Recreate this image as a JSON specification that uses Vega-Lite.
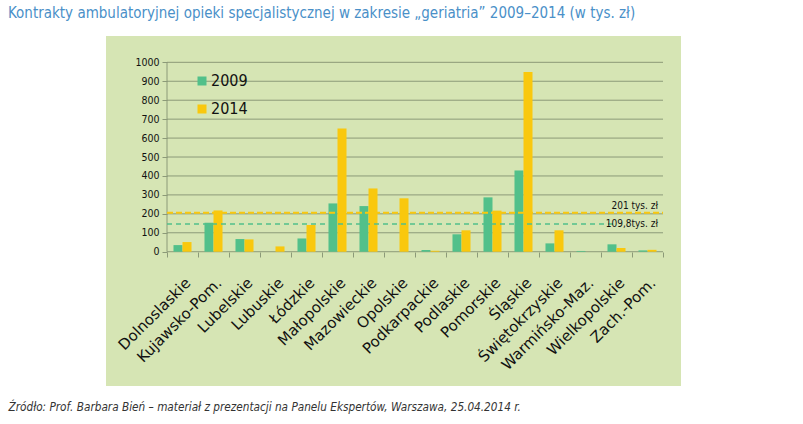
{
  "$schema": "https://vega.github.io/schema/vega-lite/v6.json",
  "width": 575,
  "height": 350,
  "autosize": {"type": "none"},
  "padding": {"left": 106, "top": 36, "right": 122, "bottom": 38},
  "background": "white",
  "title": {
    "text": "Kontrakty ambulatoryjnej opieki specjalistycznej w zakresie „geriatria” 2009–2014 (w tys.  zł)",
    "anchor": "start",
    "frame": "group",
    "dx": -98,
    "offset": 15,
    "font": "'DejaVu Sans Condensed', sans-serif",
    "fontSize": 15,
    "fontWeight": "normal",
    "color": "#4a90c8"
  },
  "datasets": {
    "contracts": [
      {"region": "Dolnoslaskie", "year": "2009", "value": 35},
      {"region": "Dolnoslaskie", "year": "2014", "value": 51},
      {"region": "Kujawsko-Pom.", "year": "2009", "value": 153},
      {"region": "Kujawsko-Pom.", "year": "2014", "value": 218},
      {"region": "Lubelskie", "year": "2009", "value": 67},
      {"region": "Lubelskie", "year": "2014", "value": 65},
      {"region": "Lubuskie", "year": "2009", "value": 0},
      {"region": "Lubuskie", "year": "2014", "value": 28},
      {"region": "Łódzkie", "year": "2009", "value": 70},
      {"region": "Łódzkie", "year": "2014", "value": 141},
      {"region": "Małopolskie", "year": "2009", "value": 255},
      {"region": "Małopolskie", "year": "2014", "value": 651},
      {"region": "Mazowieckie", "year": "2009", "value": 241},
      {"region": "Mazowieckie", "year": "2014", "value": 334},
      {"region": "Opolskie", "year": "2009", "value": 0},
      {"region": "Opolskie", "year": "2014", "value": 282},
      {"region": "Podkarpackie", "year": "2009", "value": 9},
      {"region": "Podkarpackie", "year": "2014", "value": 5},
      {"region": "Podlaskie", "year": "2009", "value": 92},
      {"region": "Podlaskie", "year": "2014", "value": 113},
      {"region": "Pomorskie", "year": "2009", "value": 287},
      {"region": "Pomorskie", "year": "2014", "value": 217},
      {"region": "Śląskie", "year": "2009", "value": 429},
      {"region": "Śląskie", "year": "2014", "value": 949},
      {"region": "Świętokrzyskie", "year": "2009", "value": 44},
      {"region": "Świętokrzyskie", "year": "2014", "value": 113},
      {"region": "Warmińsko-Maz.", "year": "2009", "value": 4},
      {"region": "Warmińsko-Maz.", "year": "2014", "value": 0},
      {"region": "Wielkopolskie", "year": "2009", "value": 39},
      {"region": "Wielkopolskie", "year": "2014", "value": 19},
      {"region": "Zach.-Pom.", "year": "2009", "value": 7},
      {"region": "Zach.-Pom.", "year": "2014", "value": 10}
    ],
    "grid": [
      {"v": 0}, {"v": 100}, {"v": 200}, {"v": 300}, {"v": 400}, {"v": 500},
      {"v": 600}, {"v": 700}, {"v": 800}, {"v": 900}, {"v": 1000}
    ]
  },
  "layer": [
    {
      "data": {"name": "grid"},
      "mark": {"type": "rule", "color": "#8c9a78", "strokeWidth": 1},
      "encoding": {
        "y": {
          "field": "v",
          "type": "quantitative",
          "axis": {
            "title": null,
            "offset": -61,
            "values": [0, 100, 200, 300, 400, 500, 600, 700, 800, 900, 1000],
            "tickCount": 20,
            "format": "d",
            "labelOverlap": false,
            "domain": false,
            "grid": false,
            "ticks": true,
            "tickSize": 5,
            "tickColor": "#8c9a78",
            "labelPadding": 3,
            "labelFont": "'DejaVu Sans Condensed', sans-serif",
            "labelFontSize": 10.5,
            "labelColor": "#111111"
          }
        },
        "x": {"datum": "Dolnoslaskie", "type": "nominal", "bandPosition": 0},
        "x2": {"datum": "Zach.-Pom.", "bandPosition": 1}
      }
    },
    {
      "data": {"name": "grid"},
      "transform": [{"filter": "datum.v == 0"}],
      "mark": {"type": "rule", "color": "#8c9a78", "strokeWidth": 1},
      "encoding": {
        "x": {"datum": "Dolnoslaskie", "type": "nominal", "bandPosition": 0},
        "y": {"field": "v", "type": "quantitative"},
        "y2": {"datum": 1000}
      }
    },
    {
      "data": {"name": "contracts"},
      "mark": {"type": "bar"},
      "encoding": {
        "x": {
          "field": "region",
          "type": "nominal",
          "sort": null,
          "scale": {
            "domain": ["Dolnoslaskie", "Kujawsko-Pom.", "Lubelskie", "Lubuskie", "Łódzkie", "Małopolskie", "Mazowieckie", "Opolskie", "Podkarpackie", "Podlaskie", "Pomorskie", "Śląskie", "Świętokrzyskie", "Warmińsko-Maz.", "Wielkopolskie", "Zach.-Pom."],
            "paddingInner": 0,
            "paddingOuter": 0,
            "range": [61, 557]
          },
          "axis": {
            "title": "Źródło: Prof. Barbara Bień – materiał z prezentacji na Panelu Ekspertów, Warszawa, 25.04.2014 r.",
            "titleX": -98,
            "titleY": 158,
            "titleAlign": "left",
            "titleAnchor": "start",
            "titleBaseline": "alphabetic",
            "titleAngle": 0,
            "titleFont": "'DejaVu Sans Condensed', sans-serif",
            "titleFontStyle": "italic",
            "titleFontWeight": "normal",
            "titleFontSize": 11.7,
            "titleColor": "#333333",
            "offset": -134,
            "domain": false,
            "grid": false,
            "ticks": true,
            "tickBand": "extent",
            "tickSize": 5,
            "tickColor": "#8c9a78",
            "labelAngle": -45,
            "labelAlign": "right",
            "labelBaseline": "middle",
            "labelPadding": 23,
            "labelOffset": 5,
            "labelFont": "DejaVu Sans",
            "labelFontSize": 15,
            "labelColor": "#111111",
            "labelOverlap": false
          }
        },
        "xOffset": {
          "field": "year",
          "type": "nominal",
          "scale": {"paddingInner": 0, "paddingOuter": 0.72}
        },
        "y": {
          "field": "value",
          "type": "quantitative",
          "scale": {"domain": [-709, 1139], "nice": false, "zero": false},
          "axis": {
            "title": null,
            "offset": -61,
            "values": [0, 100, 200, 300, 400, 500, 600, 700, 800, 900, 1000],
            "tickCount": 20,
            "format": "d",
            "labelOverlap": false,
            "domain": false,
            "grid": false,
            "ticks": true,
            "tickSize": 5,
            "tickColor": "#8c9a78",
            "labelPadding": 3,
            "labelFont": "'DejaVu Sans Condensed', sans-serif",
            "labelFontSize": 10.5,
            "labelColor": "#111111"
          }
        },
        "color": {
          "field": "year",
          "type": "nominal",
          "scale": {"domain": ["2009", "2014"], "range": ["#52c08a", "#f9c80e"]},
          "legend": {
            "title": null,
            "orient": "none",
            "legendX": 88,
            "legendY": 37,
            "symbolType": "square",
            "symbolSize": 81,
            "symbolStrokeWidth": 0,
            "labelFont": "'DejaVu Sans Condensed', sans-serif",
            "labelFontSize": 16,
            "labelColor": "#111111",
            "labelOffset": 1,
            "rowPadding": 12,
            "padding": 0
          }
        }
      }
    },
    {
      "data": {"values": [{"v": 206}]},
      "mark": {"type": "rule", "color": "#f9c80e", "strokeWidth": 2, "strokeDash": [6, 3]},
      "encoding": {
        "y": {"field": "v", "type": "quantitative"},
        "x": {"datum": "Dolnoslaskie", "type": "nominal", "bandPosition": 0},
        "x2": {"datum": "Zach.-Pom.", "bandPosition": 1}
      }
    },
    {
      "data": {"values": [{"v": 147}]},
      "mark": {"type": "rule", "color": "#52c08a", "strokeWidth": 1.5, "strokeDash": [5, 4]},
      "encoding": {
        "y": {"field": "v", "type": "quantitative"},
        "x": {"datum": "Dolnoslaskie", "type": "nominal", "bandPosition": 0},
        "x2": {"datum": "Wielkopolskie", "bandPosition": 0.4}
      }
    },
    {
      "data": {"values": [{"v": 206, "label": "201 tys. zł"}]},
      "mark": {"type": "text", "align": "right", "baseline": "alphabetic", "dx": -5, "dy": -4, "font": "'DejaVu Sans Condensed', sans-serif", "fontSize": 10, "color": "#111111"},
      "encoding": {
        "y": {"field": "v", "type": "quantitative"},
        "x": {"datum": "Zach.-Pom.", "type": "nominal", "bandPosition": 1},
        "text": {"field": "label"}
      }
    },
    {
      "data": {"values": [{"v": 147, "label": "109,8tys. zł"}]},
      "mark": {"type": "text", "align": "right", "baseline": "middle", "dx": -5, "font": "'DejaVu Sans Condensed', sans-serif", "fontSize": 10, "color": "#111111"},
      "encoding": {
        "y": {"field": "v", "type": "quantitative"},
        "x": {"datum": "Zach.-Pom.", "type": "nominal", "bandPosition": 1},
        "text": {"field": "label"}
      }
    }
  ],
  "config": {
    "view": {"fill": "#d6e5b4", "stroke": null},
    "axisY": {"labelOverlap": false}
  }
}
